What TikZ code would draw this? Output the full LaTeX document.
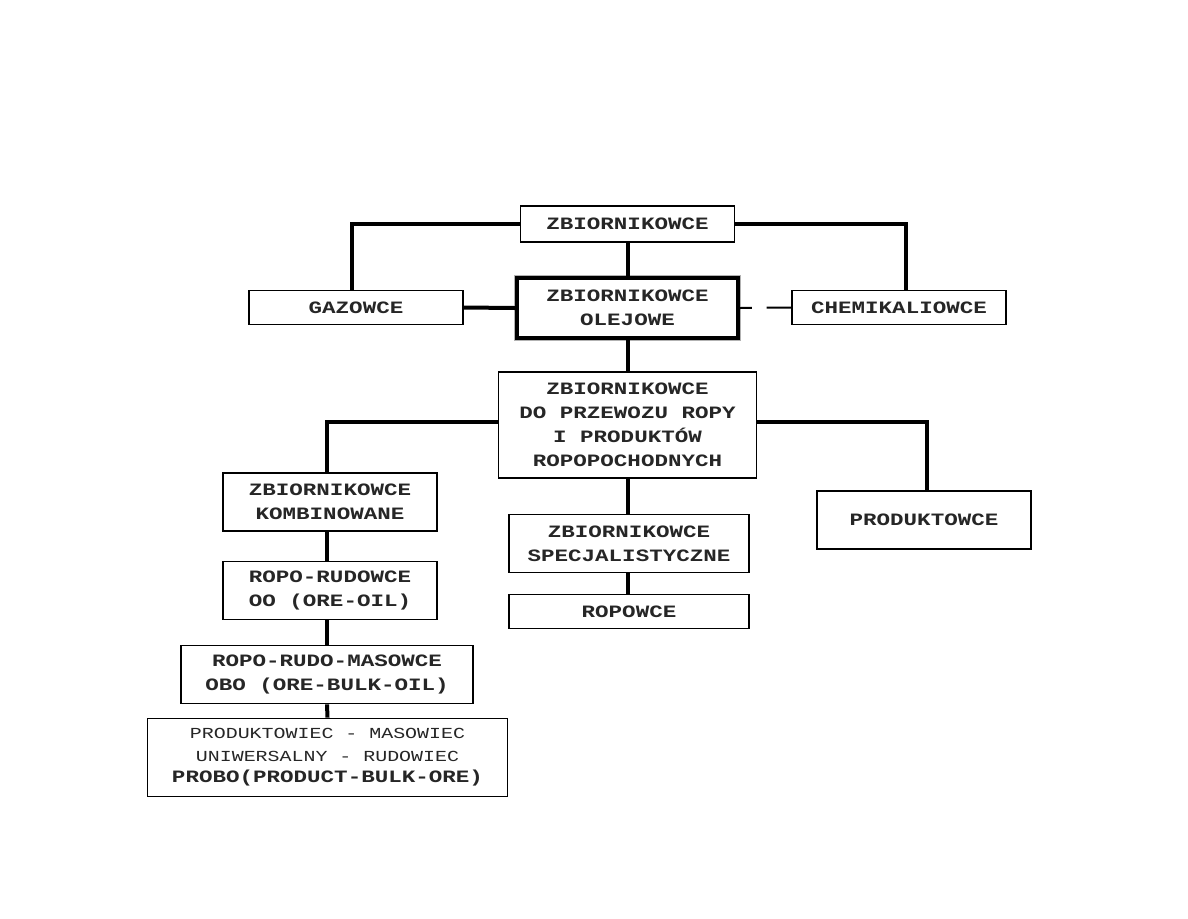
\documentclass[tikz,border=0pt]{standalone}
\usepackage{fontspec}
\usepackage{tikz}
\usetikzlibrary{positioning,calc}
\newfontfamily\shipfont[FakeStretch=1.3]{Liberation Mono}
\tikzset{
  kind/.style={rectangle, draw=black, line width=0.8pt, fill=white, align=center,
               minimum width=#1, inner sep=0pt, text=black!85,
               font=\shipfont\bfseries\fontsize{13}{18}\selectfont},
  kind/.default={160.5pt},
  main/.style={kind=166pt, line width=2.6pt, preaction={draw=gray!60, line width=3.8pt}},
  link/.style={line width=3pt, black},
  dashlink/.style={line width=1.5pt, black, dash pattern=on 9pt off 11pt on 22pt},
}
\begin{document}
\begin{tikzpicture}[x=0.75pt, y=-0.75pt]
\useasboundingbox (0,0) rectangle (1188,918);
% poziom 1
\node[kind, minimum height=27pt] (zb) at (627.5,224) {ZBIORNIKOWCE};
\node[kind, minimum height=26pt] (gaz) at (356,307.5) {GAZOWCE};
\node[main, minimum height=45pt] (olej) at (627.5,308) {ZBIORNIKOWCE\\OLEJOWE};
\node[kind, minimum height=26pt] (chem) at (899,307.5) {CHEMIKALIOWCE};
% poziom 2
\node[kind=194pt, minimum height=79.5pt] (ropa) at (627.5,425)
  {ZBIORNIKOWCE\\DO PRZEWOZU ROPY\\I PRODUKTÓW\\ROPOPOCHODNYCH};
\node[kind, minimum height=43.5pt] (komb) at (330,502) {ZBIORNIKOWCE\\KOMBINOWANE};
\node[kind=180pt, minimum height=44pt] (spec) at (629,543.5) {ZBIORNIKOWCE\\SPECJALISTYCZNE};
\node[kind, minimum height=43.5pt] (prod) at (924,520) {PRODUKTOWCE};
\node[kind=180pt, minimum height=26pt] (ropow) at (629,611.5) {ROPOWCE};
% kombinowane
\node[kind, minimum height=44pt] (oo) at (330,590.5) {ROPO-RUDOWCE\\OO (ORE-OIL)};
\node[kind=219pt, minimum height=44pt] (obo) at (327,674.5) {ROPO-RUDO-MASOWCE\\OBO (ORE-BULK-OIL)};
\node[kind=270.5pt, minimum height=59pt] (probo) at (327.5,757.5)
  {\mdseries\fontsize{11.5}{15}\selectfont PRODUKTOWIEC - MASOWIEC\\[-1pt]
   \mdseries\fontsize{11.5}{15}\selectfont UNIWERSALNY - RUDOWIEC\\[-2pt]
   \fontsize{13}{15}\selectfont PROBO(PRODUCT-BULK-ORE)};
\begin{scope}[on background layer/.style={}]
\draw[link] (zb.west) -| ([xshift=-3pt]gaz.north);
\draw[link] (zb.east) -| ([xshift=5pt]chem.north);
\draw[link] (zb.south) -- (olej.north);
\draw[link] (gaz.east) -- (olej.west);
\draw[dashlink] (olej.east) -- (chem.west);
\draw[link] (olej.south) -- (ropa.north);
\draw[link] ([yshift=2pt]ropa.west) -| ([xshift=-2pt]komb.north);
\draw[link] ([yshift=2pt]ropa.east) -| ([xshift=2pt]prod.north);
\draw[link] (ropa.south) -- (ropa.south |- spec.north);
\draw[link] (ropa.south |- spec.south) -- (ropa.south |- ropow.north);
\draw[link] ([xshift=-2pt]komb.south) -- ([xshift=-2pt]oo.north);
\draw[link] ([xshift=-2pt]oo.south) -- ([xshift=-2pt]oo.south |- obo.north);
\draw[link] (obo.south) -- (probo.north);
\end{scope}
\end{tikzpicture}
\end{document}
